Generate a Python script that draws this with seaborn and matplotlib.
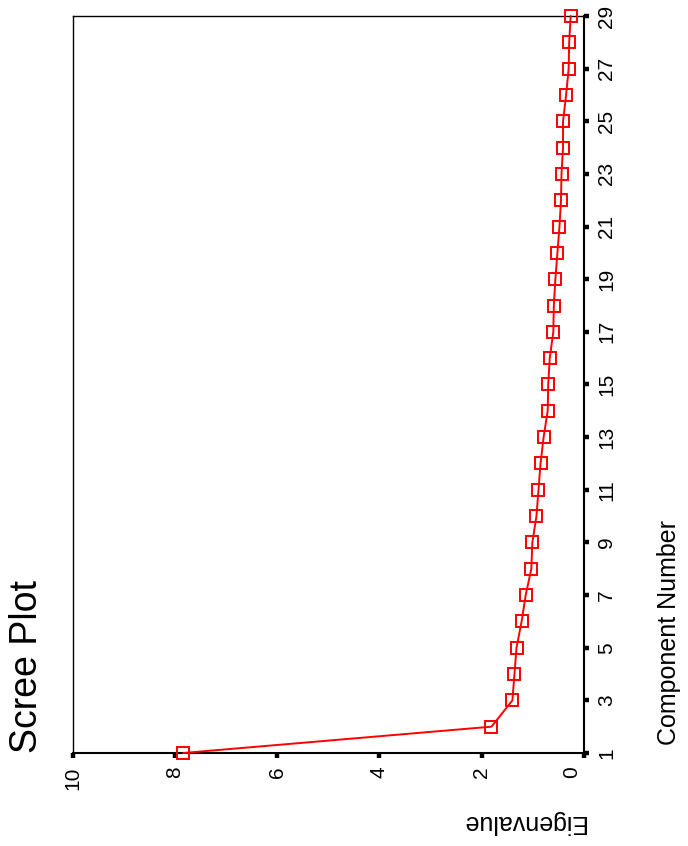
import matplotlib
matplotlib.use("Agg")
import matplotlib.pyplot as plt
from matplotlib.transforms import ScaledTranslation
import pandas as pd
import seaborn as sns

# Scree plot of the 29 principal components
components = list(range(1, 30))
eigenvalues = [7.84, 1.81, 1.40, 1.36, 1.32, 1.22, 1.14, 1.03, 1.01, 0.93,
               0.89, 0.85, 0.79, 0.71, 0.70, 0.67, 0.60, 0.59, 0.56, 0.52,
               0.48, 0.45, 0.44, 0.41, 0.41, 0.35, 0.30, 0.29, 0.26]
eigen_ticks = [0, 2, 4, 6, 8, 10]
component_ticks = list(range(1, 30, 2))

sns.set_style("white")
plt.rcParams["font.family"] = ["Liberation Sans", "DejaVu Sans"]
plt.rcParams["text.color"] = "black"

df = pd.DataFrame({"Component": components, "Eigenvalue": eigenvalues})

fig = plt.figure(figsize=(6.88, 8.46), dpi=100)
fig.patch.set_facecolor("white")
# page is laid out turned a quarter turn: component axis runs up the right side
ax = fig.add_axes([72.7 / 688, 93 / 846, (584 - 72.7) / 688, 737 / 846])

sns.lineplot(data=df, x="Eigenvalue", y="Component", orient="y", ax=ax,
             color="#ff0000", linewidth=1.4, marker="s", markersize=8,
             markerfacecolor="none", markeredgecolor="#ff0000",
             markeredgewidth=1.4, clip_on=False, zorder=5)

ax.set_xlim(10, 0)
ax.set_ylim(1, 29)
ax.set_xticks(eigen_ticks)
ax.set_yticks(component_ticks)
ax.set_xlabel("")
ax.set_ylabel("")
ax.yaxis.tick_right()

for side in ["right", "bottom"]:
    ax.spines[side].set_linewidth(1.5)
for side in ["top", "left"]:
    ax.spines[side].set_linewidth(1.0)
for sp in ax.spines.values():
    sp.set_color("black")

ax.tick_params(axis="both", direction="out", length=3.5, width=3.2,
               color="black", labelsize=15, labelcolor="black")
ax.tick_params(axis="x", labelrotation=90, pad=6, bottom=True, top=False)
ax.tick_params(axis="y", labelrotation=90, pad=6, right=True, left=False)

for lab in ax.get_yticklabels():
    lab.set_va("center")
for lab in ax.get_xticklabels():
    if lab.get_text() == "0":
        lab.set_transform(lab.get_transform()
                          + ScaledTranslation(-12 / 100, 0, fig.dpi_scale_trans))

fig.text(27 / 688, 93 / 846, "Scree Plot", rotation=90, ha="center",
         va="bottom", fontsize=27, color="black")
fig.text(669 / 688, 101 / 846, "Component Number", rotation=90, ha="center",
         va="bottom", fontsize=18, color="black")
fig.text(585 / 688, 1 - 822 / 846, "Eigenvalue", rotation=180, ha="right",
         va="center", fontsize=18, color="black")

fig.savefig("out.png", dpi=100, facecolor="white")
